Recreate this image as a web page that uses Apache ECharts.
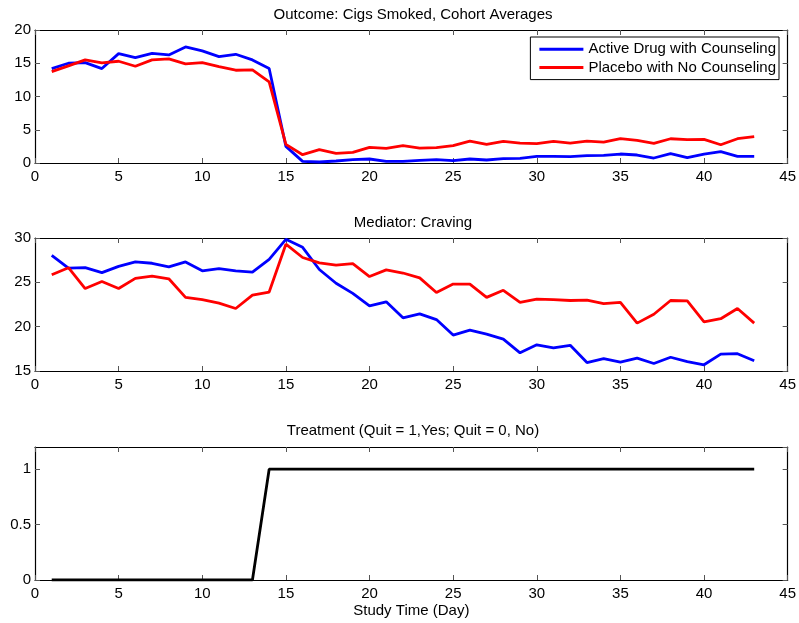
<!DOCTYPE html>
<html><head><meta charset="utf-8">
<script src="https://cdn.jsdelivr.net/npm/echarts@6/dist/echarts.min.js"></script>
<style>html,body{margin:0;padding:0;background:#fff}#c{width:799px;height:623px}</style>
</head><body><div id="c"></div>
<script>
const days = [1,2,3,4,5,6,7,8,9,10,11,12,13,14,15,16,17,18,19,20,21,22,23,24,25,26,27,28,29,30,31,32,33,34,35,36,37,38,39,40,41,42,43];
const cigsActive = [14.2,15.0,15.1,14.2,16.45,15.85,16.5,16.25,17.45,16.85,16.0,16.35,15.5,14.2,2.5,0.25,0.15,0.3,0.5,0.6,0.25,0.25,0.4,0.5,0.35,0.6,0.45,0.65,0.7,1.0,1.0,0.95,1.1,1.15,1.35,1.2,0.75,1.4,0.8,1.35,1.7,1.0,1.0];
const cigsPlacebo = [13.75,14.6,15.5,15.05,15.3,14.55,15.5,15.65,14.9,15.1,14.5,13.95,14.0,12.2,2.8,1.25,2.0,1.45,1.6,2.35,2.2,2.6,2.25,2.3,2.6,3.3,2.8,3.25,3.0,2.9,3.25,3.0,3.3,3.15,3.65,3.4,2.95,3.65,3.5,3.55,2.75,3.65,3.95];
const cravActive = [28.05,26.6,26.65,26.1,26.8,27.3,27.15,26.75,27.3,26.3,26.55,26.3,26.15,27.6,29.85,28.95,26.45,24.9,23.75,22.35,22.8,21.0,21.45,20.8,19.05,19.6,19.15,18.6,17.05,17.95,17.6,17.9,15.95,16.4,16.0,16.45,15.85,16.55,16.05,15.7,16.9,16.95,16.15];
const cravPlacebo = [25.85,26.65,24.3,25.1,24.3,25.45,25.7,25.4,23.3,23.05,22.65,22.05,23.55,23.9,29.3,27.8,27.2,26.95,27.1,25.65,26.4,26.05,25.5,23.85,24.8,24.8,23.3,24.1,22.75,23.1,23.05,22.95,23.0,22.6,22.75,20.4,21.4,22.95,22.9,20.55,20.9,22.05,20.4];
const treatment = [0,0,0,0,0,0,0,0,0,0,0,0,0,1,1,1,1,1,1,1,1,1,1,1,1,1,1,1,1,1,1,1,1,1,1,1,1,1,1,1,1,1,1];
const seriesNames = ['Active Drug with Counseling','Placebo with No Counseling'];
const titles = ['Outcome: Cigs Smoked, Cohort Averages','Mediator: Craving','Treatment (Quit = 1,Yes; Quit = 0, No)'];
const xName = 'Study Time (Day)';

const FONT = '"Liberation Sans", Arial, Helvetica, sans-serif';
const FS = 15;
const pair = arr => days.map((d,i)=>[d,arr[i]]);
const grids = [
  {left:35,right:10,top:30,height:133},
  {left:35,right:10,top:238,height:133},
  {left:35,right:10,top:447,height:133}
];
const yRanges = [[0,20,5],[15,30,5],[0,1.2,0.5]];
const xAxis = [], yAxis = [];
grids.forEach((g,i)=>{
  const common = {
    gridIndex:i, type:'value', min:0, max:45, interval:5,
    axisLine:{show:true,onZero:false,lineStyle:{color:'#000',width:1.2}},
    axisTick:{show:true,inside:true,length:5,lineStyle:{color:'#555'}},
    splitLine:{show:false}
  };
  xAxis.push(Object.assign({}, common, {position:'bottom',
    axisLabel:{show:true,color:'#000',fontSize:FS,fontFamily:FONT,margin:6},
    name: i===2?xName:'', nameLocation:'middle', nameGap:23,
    nameTextStyle:{color:'#000',fontSize:FS,fontFamily:FONT}}));
  xAxis.push(Object.assign({}, common, {position:'top',axisLabel:{show:false}}));
  const [mn,mx,iv] = yRanges[i];
  const yc = {
    gridIndex:i, type:'value', min:mn, max:mx, interval:iv,
    axisLine:{show:true,onZero:false,lineStyle:{color:'#000',width:1.2}},
    axisTick:{show:true,inside:true,length:5,lineStyle:{color:'#555'}},
    splitLine:{show:false}
  };
  yAxis.push(Object.assign({}, yc, {position:'left',
    axisLabel:{show:true,color:'#000',fontSize:FS,fontFamily:FONT,margin:4,showMaxLabel: i!==2}}));
  yAxis.push(Object.assign({}, yc, {position:'right',axisLabel:{show:false}}));
});

const lineS = (name,data,color,gi) => ({
  name, type:'line', xAxisIndex:gi*2, yAxisIndex:gi*2, data:pair(data),
  symbol:'none', lineStyle:{color,width:2.8}, itemStyle:{color}, animation:false, silent:true
});

const option = {
  animation:false,
  title: titles.map((t,i)=>({text:t,left:408,textAlign:'center',top:[2,210,418][i],
    textStyle:{fontSize:FS,fontWeight:'normal',color:'#000',fontFamily:FONT}})),
  grid: grids,
  xAxis, yAxis,
  legend:{
    data:seriesNames, orient:'vertical', right:20, top:37,
    backgroundColor:'#fff', borderColor:'#000', borderWidth:1,
    padding:[3,3,3,9], itemGap:0, itemWidth:44, itemHeight:3, icon:'rect',
    textStyle:{fontSize:FS,color:'#000',fontFamily:FONT,lineHeight:18.3}
  },
  series:[
    lineS(seriesNames[0],cigsActive,'#0000ff',0),
    lineS(seriesNames[1],cigsPlacebo,'#ff0000',0),
    lineS(seriesNames[0],cravActive,'#0000ff',1),
    lineS(seriesNames[1],cravPlacebo,'#ff0000',1),
    lineS('Treatment',treatment,'#000000',2)
  ]
};
echarts.init(document.getElementById('c')).setOption(option);
</script></body></html>
